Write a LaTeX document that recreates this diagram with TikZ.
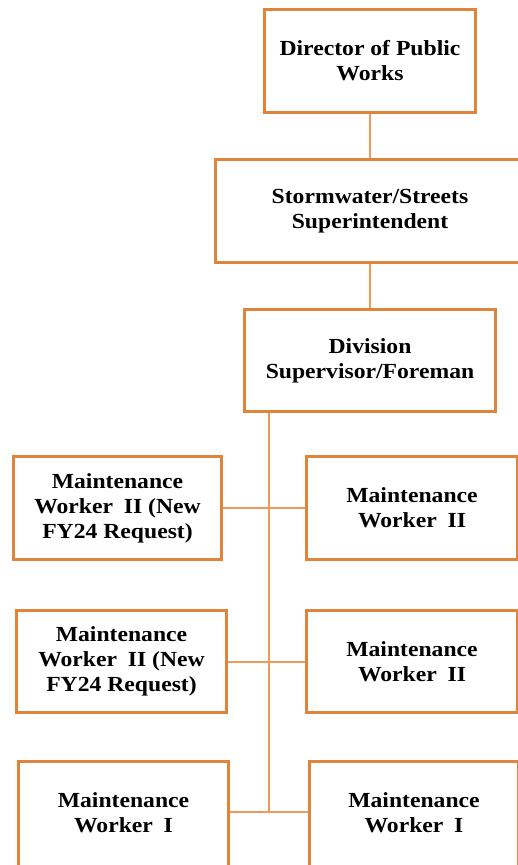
\documentclass[tikz,border=0pt]{standalone}
\usepackage{fontspec}
\setmainfont[FakeStretch=1.1]{Liberation Serif}
\usetikzlibrary{backgrounds}
\definecolor{boxorange}{HTML}{E0843C}
\definecolor{lineorange}{HTML}{EE9A5E}
\begin{document}
\begin{tikzpicture}[x=1pt,y=-1pt,
  orgbox/.style={draw=boxorange, line width=3pt, fill=white, rectangle, inner sep=0pt,
    align=center, font=\bfseries\fontsize{21.5}{25}\selectfont},
  conn/.style={draw=lineorange, line width=2pt}]
\useasboundingbox (0,0) rectangle (518,865);
% nodes
\node[orgbox, minimum width=211pt, minimum height=103pt] (d1) at (370,60.5) {Director of Public\\Works};
\node[orgbox, minimum width=309pt, minimum height=103pt] (d2) at (370,211) {Stormwater/Streets\\Superintendent};
\node[orgbox, minimum width=251pt, minimum height=102pt] (d3) at (370,360.5) {Division\\Supervisor/Foreman};
\node[orgbox, minimum width=208pt, minimum height=103pt] (l1) at (117.5,508) {Maintenance\\Worker\enspace II (New\\FY24 Request)};
\node[orgbox, minimum width=211pt, minimum height=103pt] (r1) at (412,508) {Maintenance\\Worker\enspace II};
\node[orgbox, minimum width=210pt, minimum height=102pt] (l2) at (121.5,661.5) {Maintenance\\Worker\enspace II (New\\FY24 Request)};
\node[orgbox, minimum width=211pt, minimum height=102pt] (r2) at (412,661.5) {Maintenance\\Worker\enspace II};
\node[orgbox, minimum width=210pt, minimum height=108pt] (l3) at (123.5,815) {\raisebox{3pt}{\begin{tabular}{@{}c@{}}Maintenance\\Worker\enspace I\end{tabular}}};
\node[orgbox, minimum width=209pt, minimum height=108pt] (r3) at (414,815) {\raisebox{3pt}{\begin{tabular}{@{}c@{}}Maintenance\\Worker\enspace I\end{tabular}}};
\coordinate (trunk) at (269,0);
\coordinate (row3l) at ([yshift=3pt]l3.east);
\coordinate (row3r) at ([yshift=3pt]r3.west);
% connectors behind the boxes
\begin{scope}[on background layer]
\fill[white] (0,0) rectangle (518,865);
\draw[conn] (d1.south) -- (d2.north);
\draw[conn] (d2.south) -- (d3.north);
\draw[conn] (trunk |- d3.south) -- (trunk |- row3l);
\draw[conn] (l1.east) -- (r1.west);
\draw[conn] (l2.east) -- (r2.west);
\draw[conn] (row3l) -- (row3r);
\end{scope}
\end{tikzpicture}
\end{document}
